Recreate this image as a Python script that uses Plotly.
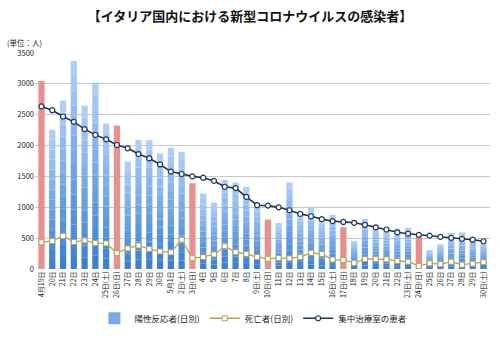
import plotly.graph_objects as go

tick_labels = ["4月19日","20日","21日","22日","23日","24日","25日(土)","26日(日)","27日","28日","29日","30日",
               "5月1日","2日(土)","3日(日)","4日","5日","6日","7日","8日","9日(土)","10日(日)",
               "11日","12日","13日","14日","15日","16日(土)","17日(日)","18日","19日","20日","21日","22日",
               "23日(土)","24日(日)","25日","26日","27日","28日","29日","30日(土)"]
sunday = [1,0,0,0,0,0,0,1,0,0,0,0, 0,0,1,0,0,0,0,0,0,1, 0,0,0,0,0,0,1,0,0,0,0,0, 0,1,0,0,0,0,0,0]
positives = [3047,2256,2729,3370,2646,3021,2357,2324,1739,2091,2086,1872,
             1965,1900,1389,1221,1075,1444,1401,1327,1083,802,
             744,1402,888,992,789,875,675,451,813,665,642,652,
             669,531,300,397,584,593,516,416]
deaths = [433,454,534,437,464,420,415,260,333,382,323,285,
          269,474,174,195,236,369,274,243,194,165,
          179,172,195,262,242,153,145,99,162,161,156,130,
          119,50,92,78,117,70,87,111]
icu = [2635,2573,2471,2384,2267,2173,2102,2009,1956,1863,1795,1694,
       1578,1539,1501,1479,1427,1333,1311,1168,1034,1027,
       999,952,893,855,808,775,762,749,716,676,640,595,
       572,553,541,521,505,489,475,450]

x = list(range(len(positives)))
FONT = "Noto Sans CJK JP"

fig = go.Figure()

# gradient blue bars (weekday), built from segments of each bar
N = 14
c0 = (58, 128, 212)   # bottom
c1 = (172, 206, 247)  # top
blue_x = [i for i in x if not sunday[i]]
blue_v = [positives[i] for i in blue_x]
for k in range(N):
    t = k / (N - 1)
    col = "rgb(%d,%d,%d)" % tuple(round(c0[j] + (c1[j] - c0[j]) * t) for j in range(3))
    fig.add_trace(go.Bar(
        x=blue_x, y=[v / N for v in blue_v], base=[v * k / N for v in blue_v],
        marker=dict(color=col, line=dict(width=0)), width=0.58,
        name="陽性反応者(日別)", showlegend=(k == N // 2), legendgroup="pos",
        hoverinfo="skip"))

red_x = [i for i in x if sunday[i]]
fig.add_trace(go.Bar(
    x=red_x, y=[positives[i] for i in red_x],
    marker=dict(color="#e9908f", line=dict(width=0)), width=0.58,
    showlegend=False, legendgroup="pos"))

fig.add_trace(go.Scatter(
    x=x, y=deaths, mode="lines+markers", name="死亡者(日別)",
    line=dict(color="#b3a455", width=1.3),
    marker=dict(symbol="square", size=5, color="white", line=dict(color="#b3a455", width=1))))

fig.add_trace(go.Scatter(
    x=x, y=icu, mode="lines+markers", name="集中治療室の患者",
    line=dict(color="#1d3557", width=1.6),
    marker=dict(symbol="circle", size=5, color="white", line=dict(color="#1d3557", width=1.2))))

fig.update_layout(
    width=500, height=343,
    margin=dict(l=35, r=10, t=53, b=66),
    paper_bgcolor="white", plot_bgcolor="white",
    barmode="overlay",
    font=dict(family=FONT, size=8, color="#222"),
    title=dict(text="<b>【イタリア国内における新型コロナウイルスの感染者】</b>",
               x=0.5, xanchor="center", y=0.952, yanchor="middle",
               font=dict(family=FONT, size=13, color="#111")),
    xaxis=dict(tickmode="array", tickvals=x, ticktext=tick_labels, tickangle=-90,
               range=[-0.6, len(x) - 0.4], showgrid=False, showline=False, ticks="",
               automargin=False, tickfont=dict(size=7, family=FONT)),
    yaxis=dict(range=[0, 3500], dtick=500, showgrid=True, gridcolor="#c8c8c8", gridwidth=1,
               zeroline=False, showline=False, ticks="", automargin=False,
               tickfont=dict(size=7.5, family=FONT)),
    legend=dict(orientation="h", x=0.48, xanchor="center", y=-0.228, yanchor="middle",
                font=dict(size=8.5, family=FONT), traceorder="normal", itemwidth=30),
    annotations=[dict(text="(単位：人)", xref="paper", yref="paper", x=-0.065, y=1.05,
                      xanchor="left", yanchor="middle", showarrow=False,
                      font=dict(size=7.5, family=FONT))],
    bargap=0.4,
)

fig.write_html("out.html")
